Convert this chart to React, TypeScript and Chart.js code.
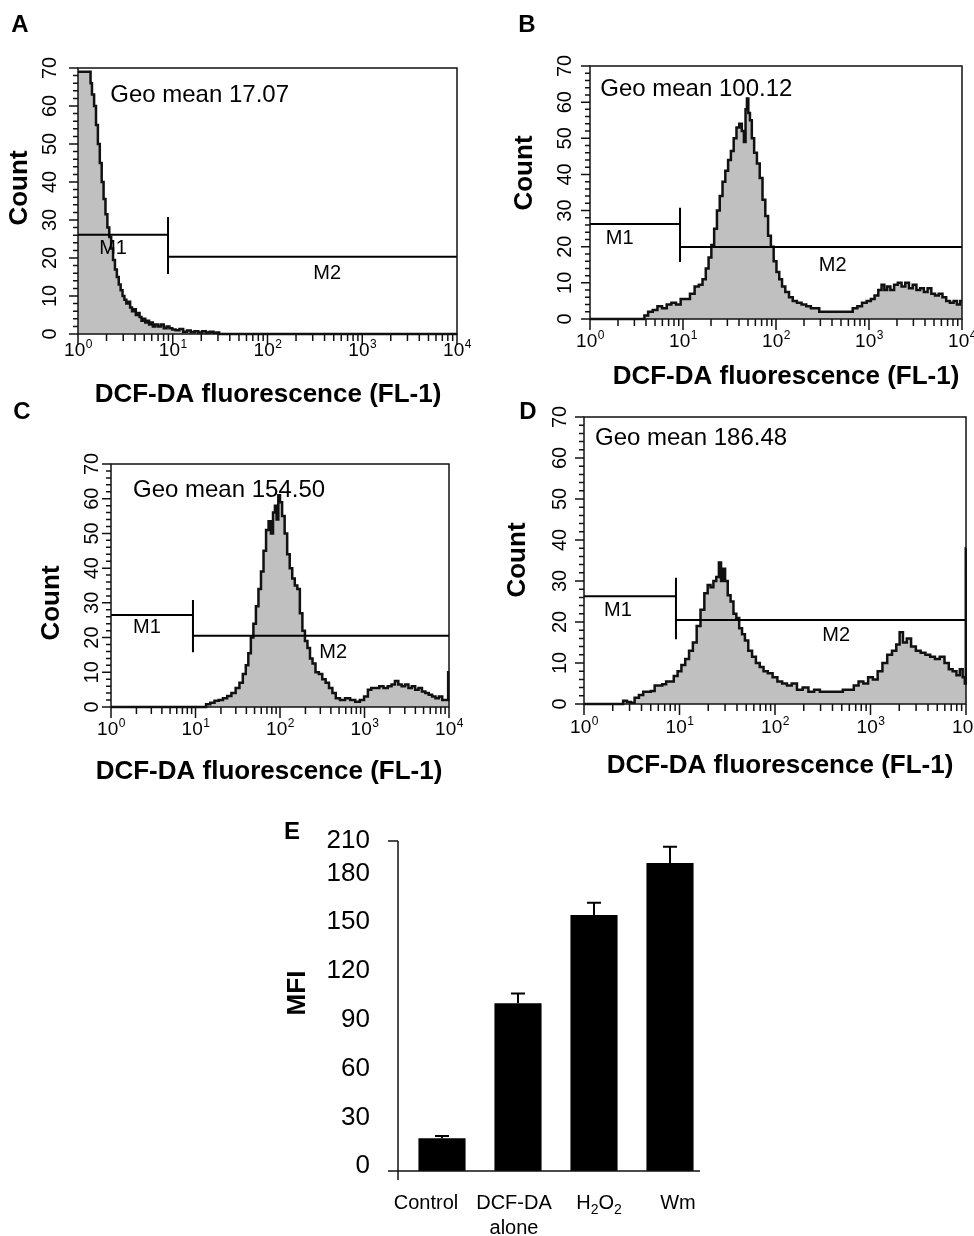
import React, { useEffect, useRef } from 'react';
import { Chart, registerables } from 'chart.js';

Chart.register(...registerables);

const FONT = '"Liberation Sans", Arial, Helvetica, sans-serif';

// ---------- Histogram data (x = log10 of DCF-DA fluorescence, y = count) ----------
const aLog = [0, 0.13, 0.135, 0.16, 0.18, 0.2, 0.22, 0.24, 0.26, 0.28, 0.3, 0.32, 0.34, 0.36, 0.38, 0.4, 0.42, 0.44, 0.46, 0.48, 0.5, 0.52, 0.54, 0.56, 0.58, 0.6, 0.62, 0.64, 0.66, 0.68, 0.7, 0.72, 0.74, 0.76, 0.78, 0.8, 0.83, 0.86, 0.89, 0.92, 0.95, 0.98, 1.01, 1.05, 1.09, 1.13, 1.17, 1.21, 1.25, 1.29, 1.33, 1.37, 1.41, 1.45, 1.48, 1.5, 4];
const aCount = [69, 69, 66, 63, 60, 55, 50, 45, 40, 35.5, 31.5, 28, 25.5, 22.5, 19.5, 17, 15, 13, 11.5, 10, 9, 8, 8.5, 7, 6, 6.5, 5, 5.5, 4.5, 3.5, 4, 3, 3.5, 2.5, 3, 2, 2.5, 2, 2.5, 1.5, 2, 1.5, 1.2, 1, 1.3, 0.6, 0.9, 0.5, 0.7, 0.4, 0.7, 0.4, 0.6, 0.3, 0.4, 0, 0];

const bLog = [0, 0.57, 0.6, 0.65, 0.7, 0.75, 0.8, 0.85, 0.9, 0.95, 1.0, 1.05, 1.1, 1.15, 1.19, 1.23, 1.26, 1.29, 1.32, 1.35, 1.38, 1.41, 1.44, 1.47, 1.5, 1.53, 1.56, 1.59, 1.62, 1.645, 1.665, 1.68, 1.695, 1.71, 1.73, 1.75, 1.78, 1.81, 1.84, 1.87, 1.9, 1.93, 1.96, 1.99, 2.02, 2.05, 2.08, 2.12, 2.16, 2.2, 2.25, 2.3, 2.35, 2.4, 2.45, 2.48, 2.6, 2.7, 2.8, 2.85, 2.9, 2.95, 3.0, 3.04, 3.08, 3.12, 3.15, 3.18, 3.21, 3.25, 3.29, 3.33, 3.37, 3.41, 3.45, 3.49, 3.53, 3.57, 3.61, 3.65, 3.69, 3.73, 3.77, 3.81, 3.85, 3.89, 3.93, 3.96, 4.0];
const bCount = [0, 0, 1, 2, 2.5, 3.5, 3, 4, 4.5, 4, 5.5, 5.5, 7, 9, 9.5, 11, 14, 17, 20.5, 25, 30, 34, 38, 41, 44, 46.5, 50, 53, 54, 52, 49, 58, 61, 57, 55, 50, 46, 43, 39, 33, 28.5, 23, 20, 16, 13, 11, 9, 7.5, 6, 5, 4.5, 4, 3.5, 3, 3, 2, 2, 2, 2, 3, 3.5, 4.5, 5, 5.5, 6.5, 8, 9.5, 8, 9, 8, 9.5, 10, 9, 10, 8.5, 9.5, 8, 8.5, 7.5, 8.5, 7, 6.5, 7, 6, 5, 4.5, 5, 4, 5];

const cLog = [0, 1.1, 1.15, 1.2, 1.25, 1.3, 1.35, 1.4, 1.45, 1.5, 1.54, 1.58, 1.61, 1.64, 1.67, 1.7, 1.73, 1.76, 1.79, 1.82, 1.85, 1.88, 1.905, 1.93, 1.95, 1.97, 1.99, 2.01, 2.04, 2.07, 2.1, 2.13, 2.16, 2.19, 2.22, 2.25, 2.28, 2.31, 2.34, 2.37, 2.4, 2.44, 2.48, 2.52, 2.56, 2.6, 2.64, 2.68, 2.74, 2.8, 2.86, 2.92, 2.97, 3.02, 3.06, 3.1, 3.15, 3.2, 3.25, 3.3, 3.34, 3.38, 3.42, 3.46, 3.5, 3.54, 3.58, 3.62, 3.66, 3.7, 3.74, 3.78, 3.82, 3.86, 3.9, 3.94, 3.98, 4.0];
const cCount = [0, 0, 0.8, 1.2, 1.8, 2, 2.5, 3.2, 4, 5.5, 7, 9.5, 12, 15.5, 20, 24, 29, 34, 39, 45, 51, 53.5, 50, 56, 58, 54, 61, 59, 55, 50, 44, 40, 37, 35, 34, 27, 22, 19, 17, 14, 12.5, 10, 9.5, 8, 7, 5.5, 4, 2.5, 2, 2.5, 2, 1.5, 2, 3, 5, 5.5, 5.5, 6, 5.5, 6, 6.5, 7.5, 6.5, 6, 6.5, 5.5, 6, 5, 5.5, 4.5, 4, 3.5, 3, 2.5, 3, 2, 2, 10];

const dLog = [0, 0.39, 0.43, 0.47, 0.51, 0.55, 0.6, 0.64, 0.68, 0.72, 0.76, 0.8, 0.84, 0.88, 0.92, 0.96, 1.0, 1.04, 1.08, 1.12, 1.16, 1.2, 1.24, 1.28, 1.31, 1.34, 1.37, 1.4, 1.425, 1.445, 1.465, 1.49, 1.52, 1.55, 1.58, 1.61, 1.64, 1.67, 1.7, 1.74, 1.78, 1.82, 1.86, 1.9, 1.95, 2.0, 2.05, 2.1, 2.15, 2.2, 2.26, 2.32, 2.38, 2.44, 2.5, 2.56, 2.62, 2.68, 2.74, 2.8, 2.85, 2.9, 2.95, 3.0, 3.05, 3.1, 3.15, 3.2, 3.25, 3.29, 3.32, 3.36, 3.4, 3.45, 3.5, 3.55, 3.6, 3.65, 3.7, 3.75, 3.8, 3.84, 3.88, 3.92, 3.95, 3.98, 3.995, 4.0];
const dCount = [0, 0, 0.8, 0.5, 0.3, 1.5, 2.2, 3, 3, 3.2, 4.5, 4.5, 4.8, 5.5, 5.5, 6.8, 8, 9.5, 11, 13, 15, 19, 23, 27, 29, 28.5, 30, 31, 34.5, 30, 33, 30, 26.5, 25, 22, 21, 18.5, 17, 15.5, 13, 11.5, 10, 9, 8, 7.5, 6.5, 5.5, 5, 4.5, 5, 3.5, 4, 3, 3.5, 3, 3, 3, 3, 3.5, 3.5, 4.5, 5.5, 5, 6.5, 6, 8, 10, 12, 13, 14.5, 17.5, 15, 16, 14, 13, 12.5, 12, 11.5, 11, 11.5, 10, 8.5, 8, 7, 8.5, 6.5, 5, 38];

const histLogs = [aLog, bLog, cLog, dLog];
const histCounts = [aCount, bCount, cCount, dCount];

// ---------- Histogram annotations ----------
const panelLetters = ['A', 'B', 'C', 'D', 'E'];
const geoMeanTexts = ['Geo mean 17.07', 'Geo mean 100.12', 'Geo mean 154.50', 'Geo mean 186.48'];
const geoMeanLog = [0.34, 0.11, 0.26, 0.115];
const geoMeanCount = [62.9, 63.4, 62.5, 64.9];
const markerSplitLog = [0.95, 0.968, 0.97, 0.963];
const m1Level = [26.1, 26.3, 26.5, 26.3];
const m2Level = [20.3, 19.9, 20.5, 20.5];
const markerTickTop = 30.8;
const markerTickBottom = 15.8;
const m1LabelLog = [0.37, 0.32, 0.426, 0.356];
const m1LabelCount = [22.6, 22.4, 22.8, 22.9];
const m2LabelLog = [2.63, 2.61, 2.63, 2.64];
const m2LabelCount = [16, 14.9, 15.8, 16.8];
const xTickExponents = ['0', '1', '2', '3', '4'];
const yTickCounts = [0, 10, 20, 30, 40, 50, 60, 70];
const xAxisTitle = 'DCF-DA fluorescence (FL-1)';
const yAxisTitle = 'Count';

// ---------- Bar chart (E) ----------
const groups = ['Control', 'DCF-DA alone', 'H2O2', 'Wm'];
const mfi = [17.07, 100.12, 154.5, 186.48];
const mfiErr = [1.5, 6, 7.5, 10];
const mfiTickValues = [0, 30, 60, 90, 120, 150, 180, 200];
const mfiTickLabels = ['0', '30', '60', '90', '120', '150', '180', '210'];
const mfiAxisTitle = 'MFI';

// ---------- Layout (page pixel positions) ----------
const HIST_LAYOUT = [
  { left: 0, top: 0, w: 487, h: 420, plot: [78, 68, 457, 334], yLabX: 50, countX: 20, countY: 188, xLabDy: 17, titleX: 268, titleY: 395, letterX: 20, letterY: 25 },
  { left: 487, top: 0, w: 487, h: 420, plot: [590, 66, 962, 319], yLabX: 565, countX: 525, countY: 173, xLabDy: 23, titleX: 786, titleY: 377, letterX: 527, letterY: 25 },
  { left: 0, top: 390, w: 487, h: 420, plot: [111, 464, 449, 707], yLabX: 92, countX: 52, countY: 603, xLabDy: 23, titleX: 269, titleY: 772, letterX: 22, letterY: 412 },
  { left: 487, top: 390, w: 487, h: 420, plot: [584, 417, 966, 704], yLabX: 560, countX: 518, countY: 560, xLabDy: 24, titleX: 780, titleY: 766, letterX: 528, letterY: 412 },
];
const BAR_LAYOUT = { left: 260, top: 800, w: 480, h: 436, plot: [404, 841, 708, 1171], tickRightX: 370, titleX: 298, titleY: 993, letterX: 292, letterY: 832, lab1Y: 1203, lab2Y: 1228, labOffsets: [-16, -4, 5, 8] };

function rotatedText(ctx: CanvasRenderingContext2D, text: string, x: number, y: number) {
  ctx.save();
  ctx.translate(x, y);
  ctx.rotate(-Math.PI / 2);
  ctx.textAlign = 'center';
  ctx.textBaseline = 'middle';
  ctx.fillText(text, 0, 0);
  ctx.restore();
}

function drawPow10(ctx: CanvasRenderingContext2D, exp: string, cx: number, cy: number) {
  ctx.font = `19px ${FONT}`;
  const w1 = ctx.measureText('10').width;
  ctx.font = `12px ${FONT}`;
  const w2 = ctx.measureText(exp).width;
  const x0 = cx - (w1 + w2) / 2;
  ctx.textAlign = 'left';
  ctx.textBaseline = 'middle';
  ctx.font = `19px ${FONT}`;
  ctx.fillText('10', x0, cy);
  ctx.font = `12px ${FONT}`;
  ctx.fillText(exp, x0 + w1 + 0.5, cy - 6);
}

function histDecor(p: number) {
  const L = HIST_LAYOUT[p];
  return {
    id: 'histDecor' + p,
    afterDatasetsDraw(chart: any) {
      const ctx: CanvasRenderingContext2D = chart.ctx;
      const { left, top, right, bottom } = chart.chartArea;
      const xs = chart.scales.x;
      const ys = chart.scales.y;
      const ox = L.left;
      const oy = L.top;
      ctx.save();
      ctx.strokeStyle = '#111';
      ctx.lineWidth = 1.5;
      ctx.strokeRect(left, top, right - left, bottom - top);
      ctx.beginPath();
      for (let d = 0; d < xTickExponents.length; d++) {
        const px = xs.getPixelForValue(d);
        ctx.moveTo(px, bottom);
        ctx.lineTo(px, bottom + 11);
        if (d < xTickExponents.length - 1) {
          for (let k = 2; k <= 9; k++) {
            const mx = xs.getPixelForValue(d + Math.log10(k));
            ctx.moveTo(mx, bottom);
            ctx.lineTo(mx, bottom + 7);
          }
        }
      }
      for (let v = 0; v <= 70; v += 2) {
        const py = ys.getPixelForValue(v);
        const len = v % 10 === 0 ? 9 : 5;
        ctx.moveTo(left, py);
        ctx.lineTo(left - len, py);
      }
      ctx.stroke();

      ctx.fillStyle = '#000';
      // x tick labels
      xTickExponents.forEach((e, i) => drawPow10(ctx, e, xs.getPixelForValue(i), bottom + L.xLabDy));
      // y tick labels (rotated)
      ctx.font = `20px ${FONT}`;
      yTickCounts.forEach((v) => rotatedText(ctx, String(v), L.yLabX - ox, ys.getPixelForValue(v)));
      // axis titles
      ctx.font = `bold 26px ${FONT}`;
      rotatedText(ctx, yAxisTitle, L.countX - ox, L.countY - oy);
      ctx.textAlign = 'center';
      ctx.textBaseline = 'middle';
      ctx.fillText(xAxisTitle, L.titleX - ox, L.titleY - oy);
      // panel letter
      ctx.font = `bold 24px ${FONT}`;
      ctx.fillText(panelLetters[p], L.letterX - ox, L.letterY - oy);
      // geo mean
      ctx.font = `24px ${FONT}`;
      ctx.textAlign = 'left';
      ctx.fillText(geoMeanTexts[p], xs.getPixelForValue(geoMeanLog[p]), ys.getPixelForValue(geoMeanCount[p]));
      // marker labels
      ctx.font = `20px ${FONT}`;
      ctx.textAlign = 'center';
      ctx.fillText('M1', xs.getPixelForValue(m1LabelLog[p]), ys.getPixelForValue(m1LabelCount[p]));
      ctx.fillText('M2', xs.getPixelForValue(m2LabelLog[p]), ys.getPixelForValue(m2LabelCount[p]));
      ctx.restore();
    },
  };
}

function makeHist(canvas: HTMLCanvasElement, p: number) {
  const L = HIST_LAYOUT[p];
  const pts = histLogs[p].map((x, i) => ({ x, y: histCounts[p][i] }));
  const s = markerSplitLog[p];
  const lineDs = (data: { x: number; y: number }[]) => ({
    type: 'line',
    data,
    borderColor: '#000',
    borderWidth: 2,
    pointRadius: 0,
    fill: false,
    order: 0,
    clip: 4,
  });
  return new Chart(canvas, {
    type: 'line',
    data: {
      datasets: [
        lineDs([{ x: 0, y: m1Level[p] }, { x: s, y: m1Level[p] }]),
        lineDs([{ x: s, y: markerTickTop }, { x: s, y: markerTickBottom }]),
        lineDs([{ x: s, y: m2Level[p] }, { x: 4, y: m2Level[p] }]),
        {
          type: 'line',
          data: pts,
          borderColor: '#111',
          borderWidth: 2.5,
          backgroundColor: '#c0c0c0',
          fill: 'origin',
          stepped: 'middle',
          pointRadius: 0,
          order: 1,
          clip: 3,
        },
      ],
    } as any,
    options: {
      responsive: false,
      animation: false,
      devicePixelRatio: 1,
      events: [],
      layout: {
        padding: {
          left: L.plot[0] - L.left,
          top: L.plot[1] - L.top,
          right: L.left + L.w - L.plot[2],
          bottom: L.top + L.h - L.plot[3],
        },
      },
      plugins: { legend: { display: false }, tooltip: { enabled: false }, title: { display: false } },
      scales: {
        x: { type: 'linear', min: 0, max: 4, display: false },
        y: { type: 'linear', min: 0, max: 70, display: false },
      },
    } as any,
    plugins: [histDecor(p)],
  });
}

const barDecor = {
  id: 'barDecor',
  afterDatasetsDraw(chart: any) {
    const ctx: CanvasRenderingContext2D = chart.ctx;
    const B = BAR_LAYOUT;
    const ox = B.left;
    const oy = B.top;
    const { left, top, right, bottom } = chart.chartArea;
    const ys = chart.scales.y;
    const meta = chart.getDatasetMeta(0);
    ctx.save();
    ctx.strokeStyle = '#111';
    ctx.lineWidth = 1.5;
    ctx.beginPath();
    const axX = left - 6;
    ctx.moveTo(axX, top);
    ctx.lineTo(axX, bottom + 9);
    ctx.moveTo(axX - 10, top);
    ctx.lineTo(axX, top);
    ctx.moveTo(left - 16, bottom);
    ctx.lineTo(right - 8, bottom);
    ctx.stroke();

    // error bars
    ctx.lineWidth = 2;
    ctx.strokeStyle = '#000';
    ctx.beginPath();
    meta.data.forEach((bar: any, i: number) => {
      const yTop = ys.getPixelForValue(mfi[i] + mfiErr[i]);
      const yv = ys.getPixelForValue(mfi[i]);
      ctx.moveTo(bar.x, yv);
      ctx.lineTo(bar.x, yTop);
      ctx.moveTo(bar.x - 7, yTop);
      ctx.lineTo(bar.x + 7, yTop);
    });
    ctx.stroke();

    ctx.fillStyle = '#000';
    ctx.font = `26px ${FONT}`;
    ctx.textAlign = 'right';
    ctx.textBaseline = 'middle';
    mfiTickValues.forEach((v, i) => ctx.fillText(mfiTickLabels[i], B.tickRightX - ox, ys.getPixelForValue(v)));

    ctx.font = `bold 26px ${FONT}`;
    rotatedText(ctx, mfiAxisTitle, B.titleX - ox, B.titleY - oy);

    ctx.font = `bold 24px ${FONT}`;
    ctx.textAlign = 'center';
    ctx.fillText(panelLetters[4], B.letterX - ox, B.letterY - oy);

    // category labels
    groups.forEach((g, i) => {
      const cx = meta.data[i].x + B.labOffsets[i];
      const y1 = B.lab1Y - oy;
      ctx.textBaseline = 'middle';
      if (g === 'H2O2') {
        const parts: [string, boolean][] = [['H', false], ['2', true], ['O', false], ['2', true]];
        let total = 0;
        parts.forEach(([t, sub]) => {
          ctx.font = sub ? `14px ${FONT}` : `20px ${FONT}`;
          total += ctx.measureText(t).width;
        });
        let x = cx - total / 2;
        ctx.textAlign = 'left';
        parts.forEach(([t, sub]) => {
          ctx.font = sub ? `14px ${FONT}` : `20px ${FONT}`;
          ctx.fillText(t, x, sub ? y1 + 7 : y1);
          x += ctx.measureText(t).width;
        });
      } else {
        ctx.font = `20px ${FONT}`;
        ctx.textAlign = 'center';
        const words = g === 'DCF-DA alone' ? ['DCF-DA', 'alone'] : [g];
        ctx.fillText(words[0], cx, y1);
        if (words[1]) ctx.fillText(words[1], cx, B.lab2Y - oy);
      }
    });
    ctx.restore();
  },
};

function makeBar(canvas: HTMLCanvasElement) {
  const B = BAR_LAYOUT;
  return new Chart(canvas, {
    type: 'bar',
    data: {
      labels: groups,
      datasets: [
        {
          data: mfi,
          backgroundColor: '#000',
          borderWidth: 0,
          base: -3,
          barPercentage: 0.62,
          categoryPercentage: 1,
        },
      ],
    } as any,
    options: {
      responsive: false,
      animation: false,
      devicePixelRatio: 1,
      events: [],
      layout: {
        padding: {
          left: B.plot[0] - B.left,
          top: B.plot[1] - B.top,
          right: B.left + B.w - B.plot[2],
          bottom: B.top + B.h - B.plot[3],
        },
      },
      plugins: { legend: { display: false }, tooltip: { enabled: false } },
      scales: {
        x: { display: false },
        y: { type: 'linear', min: -3, max: 200, display: false },
      },
    } as any,
    plugins: [barDecor],
  });
}

function ChartCanvas(props: { left: number; top: number; w: number; h: number; make: (c: HTMLCanvasElement) => Chart }) {
  const ref = useRef<HTMLCanvasElement>(null);
  useEffect(() => {
    const chart = props.make(ref.current as HTMLCanvasElement);
    return () => chart.destroy();
  }, []);
  return (
    <canvas
      ref={ref}
      width={props.w}
      height={props.h}
      style={{ position: 'absolute', left: props.left, top: props.top, width: props.w, height: props.h }}
    />
  );
}

export default function App() {
  return (
    <div style={{ position: 'absolute', left: 0, top: 0, width: 974, height: 1236, background: '#fff', overflow: 'hidden' }}>
      {HIST_LAYOUT.map((L, p) => (
        <ChartCanvas key={p} left={L.left} top={L.top} w={L.w} h={L.h} make={(c) => makeHist(c, p)} />
      ))}
      <ChartCanvas left={BAR_LAYOUT.left} top={BAR_LAYOUT.top} w={BAR_LAYOUT.w} h={BAR_LAYOUT.h} make={makeBar} />
    </div>
  );
}
